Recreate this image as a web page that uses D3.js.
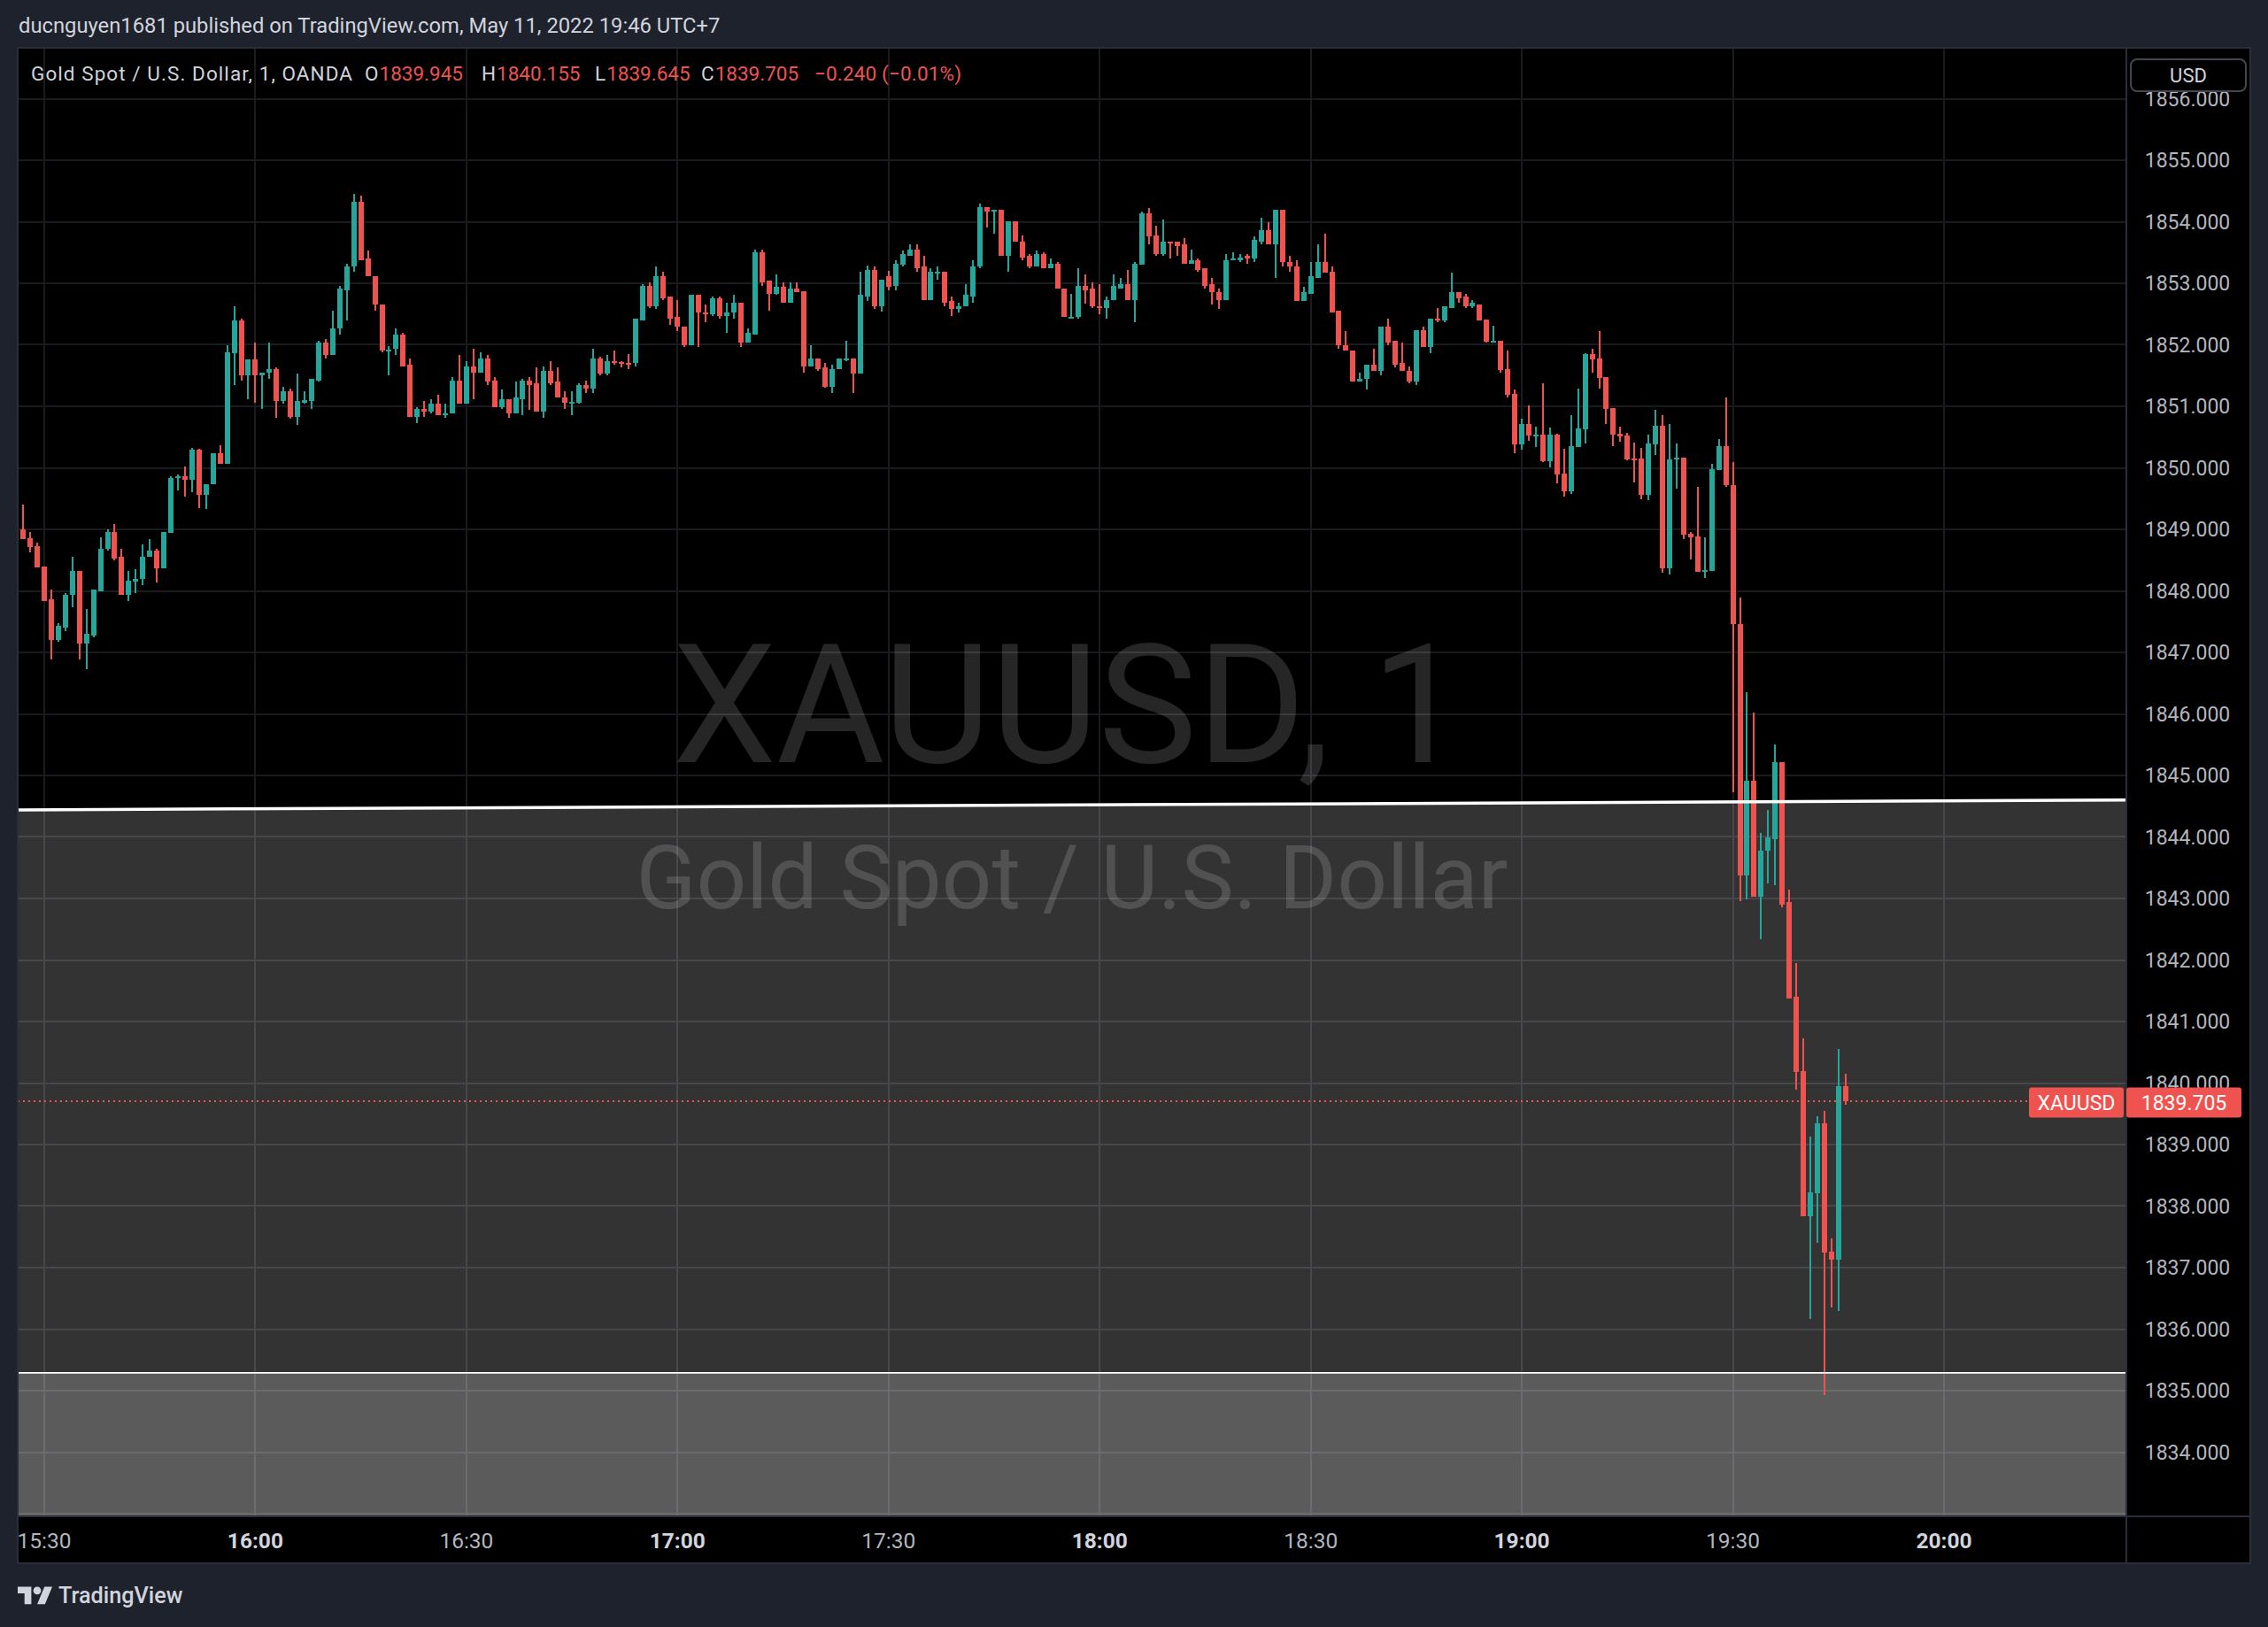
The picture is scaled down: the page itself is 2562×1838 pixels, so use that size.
<!DOCTYPE html>
<html>
<head>
<meta charset="utf-8">
<script src="https://cdn.jsdelivr.net/npm/d3@7/dist/d3.min.js"></script>
<style>
html,body{margin:0;padding:0;background:#1e222d;overflow:hidden;}
svg{display:block;}
text{font-family:Roboto,"Noto Sans",sans-serif;}
</style>
</head>
<body>
<svg id="chart" width="2562" height="1838"></svg>
<script>
// ---------------- DATA ----------------
const symbol = "XAUUSD";
const symbolName = "Gold Spot / U.S. Dollar";
const interval = "1";
const broker = "OANDA";
const publishedText = "ducnguyen1681 published on TradingView.com, May 11, 2022 19:46 UTC+7";
const firstCandleTime = "2022-05-11 15:26";   // one candle per minute

const opens = [
1849.18,1849.00,1848.85,1848.72,1848.39,1847.86,1847.20,1847.41,1847.93,1848.32,1847.14,1847.28,1848.00,1848.68,
1848.95,1848.55,1847.93,1848.15,1848.19,1848.55,1848.65,1848.36,1848.94,1849.84,
1849.86,1849.80,1850.30,1849.56,1849.73,1850.24,1850.07,1851.87,1852.40,1851.51,
1851.76,1851.50,1851.54,1851.60,1851.09,1851.25,1850.83,1851.06,1851.09,1851.42,
1852.04,1851.84,1852.26,1852.89,1853.27,1854.32,1853.40,1853.12,1852.66,1851.90,
1851.93,1852.17,1851.67,1850.83,1850.95,1850.92,1851.05,1850.85,1850.88,1851.42,
1851.05,1851.65,1851.55,1851.77,1851.42,1850.98,1851.12,1850.88,1851.12,1851.42,
1851.37,1850.92,1851.58,1851.40,1851.15,1851.06,1851.06,1851.35,1851.29,1851.77,
1851.53,1851.73,1851.72,1851.71,1851.70,1852.40,1852.96,1852.63,1853.12,1852.78,
1852.45,1852.30,1852.00,1852.81,1852.53,1852.50,1852.75,1852.47,1852.52,1852.69,
1852.03,1852.17,1853.51,1853.04,1852.83,1852.94,1852.69,1852.91,1852.87,1851.65,
1851.77,1851.63,1851.31,1851.60,1851.76,1851.77,1851.53,1852.79,1853.21,1852.63,
1853.12,1852.96,1853.30,1853.45,1853.54,1853.27,1852.73,1853.17,1853.19,1852.71,
1852.58,1852.62,1852.79,1853.27,1854.24,1854.16,1854.20,1853.44,1854.01,1853.68,
1853.44,1853.28,1853.48,1853.25,1853.31,1852.92,1852.45,1852.45,1852.96,1852.91,
1852.63,1852.59,1852.72,1852.92,1852.99,1852.73,1853.30,1854.14,1853.77,1853.48,
1853.67,1853.67,1853.63,1853.32,1853.37,1853.24,1852.98,1852.86,1852.73,1853.37,
1853.38,1853.44,1853.41,1853.68,1853.87,1853.63,1854.19,1853.35,1853.28,1852.71,
1852.83,1853.09,1853.35,1853.18,1852.55,1852.00,1851.91,1851.41,1851.44,1851.68,
1851.57,1852.29,1852.06,1851.70,1851.58,1851.41,1852.24,1851.96,1852.43,1852.40,
1852.60,1852.86,1852.78,1852.63,1852.66,1852.41,1852.05,1852.06,1851.60,1851.20,
1850.38,1850.71,1850.52,1850.54,1850.11,1850.54,1849.91,1849.62,1850.34,1850.62,
1851.85,1851.77,1851.47,1850.97,1850.55,1850.52,1850.15,1850.15,1849.56,1850.38,
1850.68,1848.37,1850.14,1850.17,1848.93,1848.89,1848.31,1848.33,1849.96,1850.35,
1849.72,1847.46,1843.37,1844.92,1843.03,1843.77,1843.97,1845.21,1842.94,1841.40,
1840.19,1837.83,1838.21,1839.34,1837.26,1837.13,1839.945];

const highs = [
1849.20,1849.40,1848.95,1848.78,1848.39,1848.02,1847.47,1847.96,1848.56,1848.33,1847.70,1848.02,1848.87,1849.00,
1849.08,1848.68,1848.32,1848.35,1848.76,1848.84,1848.68,1848.95,1849.87,1849.89,
1850.02,1850.33,1850.31,1849.74,1850.24,1850.36,1852.00,1852.62,1852.43,1851.76,
1852.03,1851.55,1852.03,1851.64,1851.32,1851.29,1851.53,1851.24,1851.45,1852.07,
1852.09,1852.56,1852.95,1853.32,1854.45,1854.42,1853.53,1853.12,1852.66,1851.98,
1852.27,1852.19,1851.77,1850.99,1851.08,1851.12,1851.19,1851.04,1851.47,1851.83,
1851.74,1851.94,1851.88,1851.83,1851.47,1851.27,1851.12,1851.40,1851.45,1851.47,
1851.63,1851.65,1851.73,1851.63,1851.24,1851.24,1851.37,1851.42,1851.94,1851.81,
1851.84,1851.90,1851.74,1851.85,1852.43,1852.99,1853.02,1853.28,1853.19,1852.78,
1852.72,1852.30,1852.81,1852.81,1852.65,1852.79,1852.79,1852.69,1852.81,1852.69,
1852.26,1853.54,1853.54,1853.04,1853.15,1853.02,1853.02,1853.02,1852.87,1851.99,
1851.78,1851.70,1851.68,1851.77,1852.06,1851.77,1853.18,1853.29,1853.27,1853.06,
1853.20,1853.37,1853.53,1853.64,1853.63,1853.44,1853.25,1853.28,1853.19,1852.78,
1852.69,1852.98,1853.37,1854.30,1854.24,1854.20,1854.20,1854.01,1854.01,1853.78,
1853.47,1853.53,1853.51,1853.41,1853.34,1852.92,1852.83,1853.25,1853.15,1853.01,
1852.98,1852.78,1853.15,1853.08,1853.22,1853.35,1854.16,1854.23,1853.93,1854.03,
1853.68,1853.67,1853.74,1853.54,1853.41,1853.24,1853.08,1852.92,1853.47,1853.50,
1853.48,1853.47,1853.76,1854.07,1853.99,1854.19,1854.19,1853.44,1853.37,1852.94,
1853.34,1853.63,1853.81,1853.28,1852.55,1852.22,1851.91,1851.54,1851.68,1851.93,
1852.29,1852.42,1852.07,1852.04,1851.65,1852.24,1852.29,1852.43,1852.60,1852.62,
1853.17,1852.86,1852.83,1852.72,1852.66,1852.41,1852.31,1852.06,1851.90,1851.27,
1850.80,1851.01,1850.67,1851.37,1850.65,1850.55,1850.31,1850.85,1851.29,1851.87,
1851.93,1852.23,1851.47,1850.97,1850.67,1850.57,1850.41,1850.32,1850.54,1850.94,
1850.85,1850.71,1850.39,1850.17,1848.96,1849.69,1848.87,1850.06,1850.47,1851.14,
1850.09,1847.89,1846.35,1846.02,1844.07,1844.44,1845.51,1845.21,1843.15,1841.95,
1840.73,1839.13,1839.46,1839.55,1837.47,1840.56,1840.155];

const lows = [
1848.98,1848.84,1848.62,1848.38,1847.84,1846.88,1847.17,1847.35,1847.74,1846.89,1846.72,1847.24,1848.00,1848.66,
1848.50,1847.93,1847.84,1847.96,1848.09,1848.55,1848.13,1848.36,1848.94,1849.64,
1849.53,1849.61,1849.35,1849.33,1849.73,1850.07,1850.07,1851.35,1851.42,1851.11,
1851.06,1850.96,1851.44,1850.82,1851.05,1850.80,1850.70,1851.05,1850.95,1851.41,
1851.77,1851.83,1852.16,1852.39,1853.18,1853.38,1853.11,1852.56,1851.88,1851.50,
1851.84,1851.65,1850.83,1850.73,1850.83,1850.89,1850.85,1850.81,1850.88,1851.04,
1851.04,1851.11,1851.55,1851.35,1850.98,1850.96,1850.82,1850.88,1850.86,1850.94,
1850.92,1850.81,1851.35,1851.14,1850.95,1850.86,1851.04,1851.21,1851.22,1851.51,
1851.51,1851.68,1851.63,1851.61,1851.65,1852.40,1852.60,1852.58,1852.73,1852.33,
1852.22,1851.96,1852.00,1851.97,1852.36,1852.47,1852.43,1852.19,1852.43,1851.96,
1852.03,1852.17,1852.96,1852.55,1852.82,1852.69,1852.69,1852.85,1851.55,1851.65,
1851.58,1851.30,1851.22,1851.60,1851.74,1851.21,1851.53,1852.71,1852.58,1852.54,
1852.88,1852.88,1853.28,1853.45,1853.18,1852.73,1852.72,1853.06,1852.63,1852.47,
1852.52,1852.62,1852.69,1853.25,1853.90,1853.81,1853.44,1853.19,1853.67,1853.37,
1853.25,1853.28,1853.24,1853.25,1852.91,1852.45,1852.43,1852.43,1852.67,1852.60,
1852.50,1852.43,1852.72,1852.91,1852.73,1852.36,1853.30,1853.64,1853.45,1853.44,
1853.41,1853.45,1853.32,1853.32,1853.19,1852.91,1852.66,1852.58,1852.72,1853.37,
1853.35,1853.32,1853.35,1853.64,1853.63,1853.08,1853.28,1853.18,1852.71,1852.71,
1852.83,1853.09,1853.17,1852.52,1851.93,1851.90,1851.41,1851.40,1851.28,1851.57,
1851.50,1852.00,1851.63,1851.57,1851.37,1851.35,1851.96,1851.86,1852.37,1852.36,
1852.60,1852.68,1852.60,1852.60,1852.39,1852.03,1852.03,1851.54,1851.14,1850.24,
1850.29,1850.44,1850.34,1850.09,1850.01,1849.75,1849.53,1849.58,1850.34,1850.39,
1851.54,1851.29,1850.71,1850.35,1850.42,1850.12,1849.76,1849.49,1849.47,1850.21,
1848.30,1848.27,1849.66,1848.84,1848.51,1848.31,1848.21,1848.33,1849.96,1849.69,
1844.72,1842.96,1842.98,1843.03,1842.34,1843.25,1843.21,1842.85,1841.38,1839.89,
1837.83,1836.16,1837.41,1834.93,1836.35,1836.29,1839.645];

const closes = [
1849.00,1848.84,1848.71,1848.38,1847.84,1847.20,1847.43,1847.94,1848.32,1847.14,1847.30,1848.02,1848.69,1848.95,
1848.53,1847.93,1848.16,1848.20,1848.56,1848.65,1848.36,1848.95,1849.84,1849.86,
1849.80,1850.30,1849.56,1849.74,1850.24,1850.07,1851.88,1852.40,1851.51,1851.76,
1851.50,1851.55,1851.60,1851.09,1851.25,1850.83,1851.08,1851.10,1851.45,1852.04,
1851.84,1852.27,1852.91,1853.28,1854.32,1853.38,1853.11,1852.65,1851.91,1851.92,
1852.17,1851.65,1850.83,1850.95,1850.92,1851.05,1850.85,1850.89,1851.42,1851.05,
1851.65,1851.55,1851.77,1851.41,1850.98,1851.12,1850.88,1851.14,1851.42,1851.35,
1850.92,1851.58,1851.38,1851.14,1851.06,1851.07,1851.35,1851.29,1851.77,1851.53,
1851.73,1851.70,1851.70,1851.70,1852.42,1852.96,1852.63,1853.12,1852.76,1852.43,
1852.29,1852.00,1852.81,1852.52,1852.50,1852.75,1852.47,1852.53,1852.69,1852.03,
1852.19,1853.51,1853.02,1852.83,1852.94,1852.69,1852.91,1852.85,1851.65,1851.77,
1851.60,1851.31,1851.61,1851.77,1851.78,1851.53,1852.81,1853.21,1852.63,1853.06,
1852.94,1853.31,1853.47,1853.54,1853.25,1852.73,1853.18,1853.19,1852.69,1852.58,
1852.63,1852.81,1853.28,1854.24,1854.16,1854.20,1853.44,1854.01,1853.67,1853.42,
1853.28,1853.48,1853.25,1853.31,1852.91,1852.45,1852.46,1852.96,1852.89,1852.62,
1852.59,1852.73,1852.96,1852.99,1852.73,1853.31,1854.14,1853.76,1853.47,1853.67,
1853.65,1853.61,1853.32,1853.37,1853.22,1852.96,1852.85,1852.73,1853.38,1853.40,
1853.42,1853.41,1853.70,1853.87,1853.63,1854.19,1853.34,1853.27,1852.71,1852.85,
1853.11,1853.35,1853.17,1852.53,1851.99,1851.90,1851.41,1851.45,1851.68,1851.57,
1852.29,1852.04,1851.68,1851.57,1851.41,1852.24,1851.96,1852.43,1852.40,1852.62,
1852.86,1852.76,1852.63,1852.68,1852.39,1852.05,1852.06,1851.59,1851.18,1850.38,
1850.71,1850.52,1850.54,1850.11,1850.54,1849.89,1849.62,1850.35,1850.64,1851.85,
1851.76,1851.46,1850.95,1850.54,1850.51,1850.14,1850.14,1849.56,1850.39,1850.68,
1848.37,1850.14,1850.17,1848.91,1848.87,1848.31,1848.34,1849.98,1850.35,1849.72,
1847.46,1843.37,1844.92,1843.03,1843.78,1843.99,1845.21,1842.90,1841.38,1840.18,
1837.83,1838.22,1839.34,1837.24,1837.13,1839.945,1839.705];

const timeTickLabels = ["15:30","16:00","16:30","17:00","17:30","18:00","18:30","19:00","19:30","20:00"];
const priceTicks = [1834,1835,1836,1837,1838,1839,1840,1841,1842,1843,1844,1845,1846,1847,1848,1849,1850,1851,1852,1853,1854,1855,1856];
const gridPrices = [1833,1834,1835,1836,1837,1838,1839,1840,1841,1842,1843,1844,1845,1846,1847,1848,1849,1850,1851,1852,1853,1854,1855,1856,1857];
// drawings (price levels at left / right edge of the pane)
const upperZoneLine = [1844.44, 1844.60];
const lowerZoneLine = [1835.29, 1835.29];

// ---------------- LAYOUT ----------------
const C = {
  bg:"#1e222d", pane:"#000000", border:"#2a2e39", grid:"#1a1b1f",
  up:"#26a69a", down:"#ef5350", text:"#d1d4dc", axisText:"#b2b5be"
};
const L = {left:20, top:54, plotRight:2402, axisRight:2542, plotBottom:1712, axisBottom:1766};

const svg = d3.select("#chart");
const parse = d3.utcParse("%Y-%m-%d %H:%M");
const t0 = parse(firstCandleTime);
const candles = opens.map((o,i)=>({
  t:new Date(t0.getTime()+i*60000), o, h:highs[i], l:lows[i], c:closes[i]
}));
const tickDates = timeTickLabels.map(s=>parse("2022-05-11 "+s));

const x = d3.scaleUtc().domain([tickDates[0], tickDates[tickDates.length-1]]).range([50, 2196]);
const y = d3.scaleLinear().domain([1856, 1834]).range([111.5, 1640.5]);

// page background
svg.append("rect").attr("width",2562).attr("height",1838).attr("fill",C.bg);
// pane
svg.append("rect").attr("x",L.left).attr("y",L.top)
  .attr("width",L.axisRight-L.left).attr("height",L.axisBottom-L.top).attr("fill",C.pane);

const defs = svg.append("defs");
defs.append("clipPath").attr("id","plotClip").append("rect")
  .attr("x",L.left).attr("y",L.top).attr("width",L.plotRight-L.left).attr("height",L.plotBottom-L.top);

const plot = svg.append("g").attr("clip-path","url(#plotClip)");

// grid
plot.append("g").selectAll("line").data(gridPrices).join("line")
  .attr("x1",L.left).attr("x2",L.plotRight)
  .attr("y1",d=>Math.round(y(d))).attr("y2",d=>Math.round(y(d)))
  .attr("stroke",C.grid).attr("stroke-width",2);
plot.append("g").selectAll("line").data(tickDates).join("line")
  .attr("y1",L.top).attr("y2",L.plotBottom)
  .attr("x1",d=>Math.round(x(d))).attr("x2",d=>Math.round(x(d)))
  .attr("stroke",C.grid).attr("stroke-width",2);

// watermark
const cx = (L.left+L.plotRight)/2;
function fitWidth(sel, target){
  const w = sel.node().getBBox().width;
  const fs = parseFloat(sel.attr("font-size"));
  sel.attr("font-size", fs*target/w);
}
const wm1 = plot.append("text").attr("x",cx-4).attr("y",861).attr("text-anchor","middle")
  .attr("font-size",200).attr("fill","rgba(255,255,255,0.15)").text(symbol+", "+interval);
fitWidth(wm1, 895);
const wm2 = plot.append("text").attr("x",cx).attr("y",1026).attr("text-anchor","middle")
  .attr("font-size",100).attr("fill","rgba(255,255,255,0.15)").text(symbolName);
fitWidth(wm2, 985);

// zones (translucent rectangles)
const yl = v=>y(v);
plot.append("path")
  .attr("d",`M${L.left},${yl(upperZoneLine[0])}L${L.plotRight},${yl(upperZoneLine[1])}L${L.plotRight},${L.plotBottom+5}L${L.left},${L.plotBottom+5}Z`)
  .attr("fill","rgba(255,255,255,0.2)");
plot.append("path")
  .attr("d",`M${L.left},${yl(lowerZoneLine[0])}L${L.plotRight},${yl(lowerZoneLine[1])}L${L.plotRight},${L.plotBottom+5}L${L.left},${L.plotBottom+5}Z`)
  .attr("fill","rgba(255,255,255,0.2)");

// candles
const cg = plot.append("g").attr("shape-rendering","crispEdges");
const col = d=> d.c>=d.o ? C.up : C.down;
cg.selectAll("rect.w").data(candles).join("rect").attr("class","w")
  .attr("x",d=>Math.round(x(d.t))-1).attr("width",2)
  .attr("y",d=>y(d.h)).attr("height",d=>Math.max(1,y(d.l)-y(d.h)))
  .attr("fill",col);
cg.selectAll("rect.b").data(candles).join("rect").attr("class","b")
  .attr("x",d=>Math.round(x(d.t))-3).attr("width",6)
  .attr("y",d=>y(Math.max(d.o,d.c))).attr("height",d=>Math.max(2,Math.abs(y(d.o)-y(d.c))))
  .attr("fill",col);

// zone lines
plot.append("line").attr("x1",L.left).attr("x2",L.plotRight)
  .attr("y1",yl(upperZoneLine[0])).attr("y2",yl(upperZoneLine[1]))
  .attr("stroke","#ffffff").attr("stroke-width",3.5);
plot.append("line").attr("x1",L.left).attr("x2",L.plotRight)
  .attr("y1",yl(lowerZoneLine[0])).attr("y2",yl(lowerZoneLine[1]))
  .attr("stroke","#ffffff").attr("stroke-width",1.8);

// last price line
const last = candles[candles.length-1];
const prev = candles[candles.length-2];
const yLast = y(last.c);
plot.append("line").attr("x1",L.left).attr("x2",L.plotRight)
  .attr("y1",Math.round(yLast)).attr("y2",Math.round(yLast))
  .attr("stroke",C.down).attr("stroke-width",2).attr("stroke-dasharray","2 4");

// separators / borders
svg.append("line").attr("x1",L.plotRight).attr("x2",L.plotRight).attr("y1",L.top).attr("y2",L.axisBottom)
  .attr("stroke",C.border).attr("stroke-width",2);
svg.append("line").attr("x1",L.left).attr("x2",L.axisRight).attr("y1",L.plotBottom+1).attr("y2",L.plotBottom+1)
  .attr("stroke",C.border).attr("stroke-width",2);
svg.append("rect").attr("x",L.left).attr("y",L.top)
  .attr("width",L.axisRight-L.left).attr("height",L.axisBottom-L.top)
  .attr("fill","none").attr("stroke",C.border).attr("stroke-width",2);

// y axis labels
const f3 = d3.format(".3f");
svg.append("g").selectAll("text").data(priceTicks).join("text")
  .attr("x",2471).attr("y",d=>y(d)+8).attr("text-anchor","middle")
  .attr("font-size",23).attr("fill",C.axisText).text(d=>f3(d));

// USD box
svg.append("rect").attr("x",2407).attr("y",67).attr("width",130).attr("height",36).attr("rx",7)
  .attr("fill","#000").attr("stroke","#434651").attr("stroke-width",2);
svg.append("text").attr("x",2472).attr("y",93).attr("text-anchor","middle")
  .attr("font-size",22).attr("fill",C.text).text("USD");

// x axis labels
const hourFmt = d3.utcFormat("%M");
svg.append("g").selectAll("text").data(tickDates).join("text")
  .attr("x",d=>x(d)).attr("y",1749).attr("text-anchor","middle")
  .attr("font-size",24.5)
  .attr("font-weight",d=>hourFmt(d)==="00"?"bold":"normal")
  .attr("fill",d=>hourFmt(d)==="00"?C.text:C.axisText)
  .text((d,i)=>timeTickLabels[i]);

// price labels
const ly = yLast+1.5;
svg.append("rect").attr("x",2292).attr("y",ly-17).attr("width",107).attr("height",34).attr("rx",3).attr("fill",C.down);
svg.append("text").attr("x",2345.5).attr("y",ly+8).attr("text-anchor","middle")
  .attr("font-size",23).attr("fill","#fff").text(symbol);
svg.append("rect").attr("x",2402).attr("y",ly-17).attr("width",130).attr("height",34).attr("rx",3).attr("fill",C.down);
svg.append("text").attr("x",2467).attr("y",ly+8).attr("text-anchor","middle")
  .attr("font-size",23).attr("fill","#fff").text(f3(last.c));

// header
const h1 = svg.append("text").attr("x",21).attr("y",37).attr("font-size",22).attr("fill",C.text).text(publishedText);
fitWidth(h1, 793);

// legend (each piece at its own position)
const chg = last.c - prev.c;
const pct = chg/prev.c*100;
const legY = 91, legFs = 22.5;
svg.append("text").attr("x",35).attr("y",legY).attr("font-size",legFs).attr("fill",C.text)
  .attr("textLength",363).attr("lengthAdjust","spacing")
  .text(`${symbolName}, ${interval}, ${broker}`);
const legendKeys = ["O","H","L","C"];
const legendVals = [last.o,last.h,last.l,last.c];
const legendKeyX = [412, 544, 672, 792];
legendKeys.forEach((k,i)=>{
  const t = svg.append("text").attr("x",legendKeyX[i]).attr("y",legY).attr("font-size",legFs);
  t.append("tspan").attr("fill",C.text).text(k);
  t.append("tspan").attr("dx",1).attr("fill",C.down).text(f3(legendVals[i]));
});
svg.append("text").attr("x",920).attr("y",legY).attr("font-size",legFs).attr("fill",C.down)
  .attr("textLength",166).attr("lengthAdjust","spacing")
  .text(`${f3(chg)} (${d3.format(".2f")(pct)}%)`);

// TradingView logo
const logo = svg.append("g").attr("transform","translate(20,1788) scale(1.1)").attr("fill",C.text);
logo.append("path").attr("d","M14 22H7V11H0V4h14v18zM28 22h-8l7.5-18h8L28 22z");
logo.append("circle").attr("cx",20).attr("cy",8).attr("r",4);
const lt = svg.append("text").attr("x",66).attr("y",1811).attr("font-size",25).attr("fill",C.text)
  .attr("font-weight",500).text("TradingView");
fitWidth(lt, 141);
</script>
</body>
</html>
